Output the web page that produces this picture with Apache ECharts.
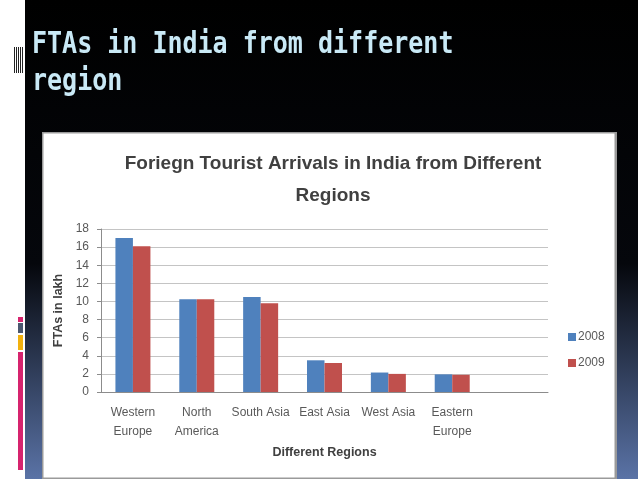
<!DOCTYPE html>
<html>
<head>
<meta charset="utf-8">
<style>
html,body{margin:0;padding:0;background:#fff;}
#c{width:638px;height:479px;}
</style>
<script src="https://cdn.jsdelivr.net/npm/echarts@6/dist/echarts.min.js"></script>
</head>
<body>
<div id="c"></div>
<script>
const categories = ['Western\nEurope', 'North\nAmerica', 'South Asia', 'East Asia', 'West Asia', 'Eastern\nEurope', ''];
const values2008 = [17.0, 10.25, 10.5, 3.5, 2.15, 1.95, null];
const values2009 = [16.1, 10.25, 9.8, 3.2, 2.0, 1.9, null];
const seriesNames = ['2008', '2009'];
const yTicks = { min: 0, max: 18, interval: 2 };
const slideTitle = ['FTAs in India from different', 'region'];
const chartTitle = 'Foriegn Tourist Arrivals in India from Different\nRegions';

const chart = echarts.init(document.getElementById('c'), null, { renderer: 'canvas' });
const narrow = '"Liberation Sans Narrow", "Liberation Sans", "DejaVu Sans", sans-serif';

const stripes = [];
for (let x = 14.5; x <= 24; x += 2) {
  stripes.push({ type: 'line', shape: { x1: x, y1: 47, x2: x, y2: 73 }, style: { stroke: '#222', lineWidth: 1 } });
}

chart.setOption({
  animation: false,
  backgroundColor: '#ffffff',
  graphic: [
    { type: 'rect', z: -10, shape: { x: 25, y: 0, width: 613, height: 479 },
      style: { fill: new echarts.graphic.LinearGradient(0, 0, 0, 1, [
        { offset: 0, color: '#000000' }, { offset: 0.55, color: '#05070c' }, { offset: 1, color: '#5a73a6' }]) } },
    { type: 'rect', z: -9, shape: { x: 42, y: 132, width: 575, height: 347 }, style: { fill: '#9a9a9a' } },
    { type: 'rect', z: -8, shape: { x: 43.5, y: 133.5, width: 571, height: 344 }, style: { fill: '#ffffff' } },
    ...stripes,
    { type: 'rect', shape: { x: 18, y: 317, width: 5, height: 5 }, style: { fill: '#d6246e' } },
    { type: 'rect', shape: { x: 18, y: 323, width: 5, height: 10 }, style: { fill: '#4b5870' } },
    { type: 'rect', shape: { x: 18, y: 335, width: 5, height: 15 }, style: { fill: '#f2b10e' } },
    { type: 'rect', shape: { x: 18, y: 352, width: 5, height: 118 }, style: { fill: '#d6246e' } },
    { type: 'text', x: 32, y: 27, scaleY: 1.18, originX: 0, originY: 0,
      style: { x: 0, y: 0, text: slideTitle.join('\n'), fill: '#c9e9f6', verticalAlign: 'top',
      font: 'bold 25px "DejaVu Sans Mono", "Liberation Mono", monospace', lineHeight: 31.4 } }
  ],
  title: {
    text: chartTitle, left: 328, top: 143, textAlign: 'center',
    textStyle: { fontFamily: narrow, fontWeight: 'bold', fontSize: 19, color: '#404040', lineHeight: 32 }
  },
  legend: {
    orient: 'vertical', left: 563, top: 326, itemWidth: 8, itemHeight: 8, itemGap: 14,
    icon: 'rect', data: seriesNames,
    textStyle: { fontFamily: narrow, fontSize: 12, color: '#595959', padding: [0, 0, 0, -3] }
  },
  grid: { left: 101, top: 229, width: 447, height: 163, containLabel: false },
  xAxis: {
    type: 'category', data: categories,
    name: 'Different Regions', nameLocation: 'middle', nameGap: 54,
    nameTextStyle: { fontFamily: narrow, fontWeight: 'bold', fontSize: 12.5, color: '#404040' },
    axisLine: { lineStyle: { color: '#8c8c8c' } },
    axisTick: { show: false },
    axisLabel: { interval: 0, margin: 11, fontFamily: narrow, fontSize: 12, color: '#595959', lineHeight: 19 }
  },
  yAxis: {
    type: 'value', min: yTicks.min, max: yTicks.max, interval: yTicks.interval,
    name: 'FTAs in lakh', nameLocation: 'middle', nameGap: 31, nameRotate: 90,
    nameTextStyle: { fontFamily: narrow, fontWeight: 'bold', fontSize: 12.5, color: '#404040' },
    axisLine: { show: true, lineStyle: { color: '#8c8c8c' } },
    axisTick: { show: true, length: 4, lineStyle: { color: '#8c8c8c' } },
    splitLine: { lineStyle: { color: '#c4c4c4' } },
    axisLabel: { margin: 12, fontFamily: narrow, fontSize: 12, color: '#595959' }
  },
  series: [
    { name: seriesNames[0], type: 'bar', data: values2008, barWidth: 17.5, barGap: '0%', itemStyle: { color: '#4f81bd' } },
    { name: seriesNames[1], type: 'bar', data: values2009, barWidth: 17.5, barGap: '0%', itemStyle: { color: '#c0504d' } }
  ]
});
</script>
</body>
</html>
